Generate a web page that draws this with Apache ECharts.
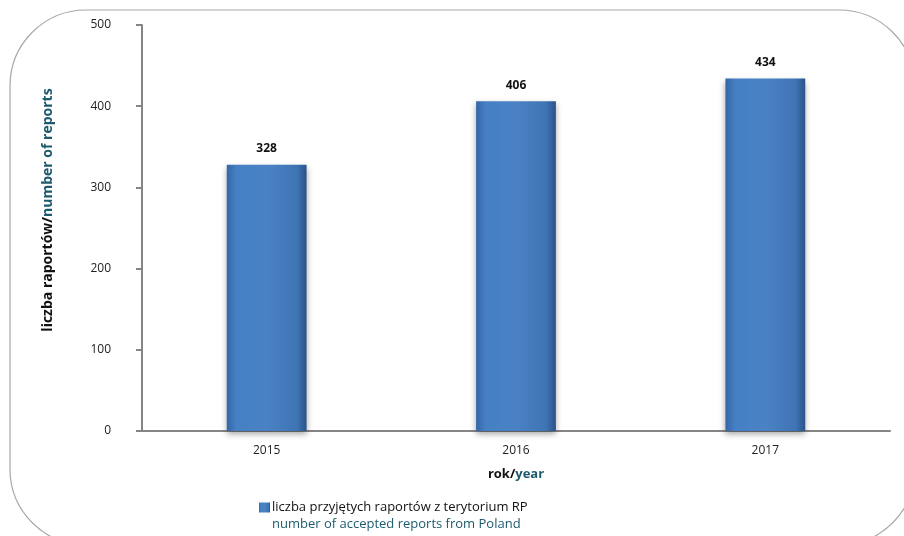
<!DOCTYPE html>
<html>
<head>
<meta charset="utf-8">
<script src="https://cdn.jsdelivr.net/npm/echarts@6/dist/echarts.min.js"></script>
<style>
  html, body { margin: 0; padding: 0; background: #fff; }
  #chart { width: 904px; height: 536px; }
</style>
</head>
<body>
<div id="chart"></div>
<script>
// lata / years
const years = ["2015", "2016", "2017"];
// liczba przyjętych raportów z terytorium RP
const reports = [328, 406, 434];
const yTicks = [0, 100, 200, 300, 400, 500];

const teal = "#1d5a6e";
const font = "Open Sans";

const myChart = echarts.init(document.getElementById("chart"));

const option = {
  backgroundColor: "#fff",
  textStyle: { fontFamily: font },
  grid: { left: 142, right: 14, top: 25, bottom: 105 },
  graphic: [
    {
      // ramka z zaokrąglonymi rogami
      type: "rect",
      shape: { x: 10, y: 10, width: 905, height: 535, r: 76 },
      style: { fill: "none", stroke: "#a8a8a8", lineWidth: 1.2 },
      z: -1
    },
    {
      // opis osi Y
      type: "text",
      x: 48,
      y: 210,
      rotation: Math.PI / 2,
      style: {
        text: "{a|liczba raportów/}{b|number of reports}",
        align: "center",
        verticalAlign: "middle",
        rich: {
          a: { fontFamily: font, fontSize: 14, fontWeight: "bold", fill: "#111" },
          b: { fontFamily: font, fontSize: 14, fontWeight: "bold", fill: teal }
        }
      }
    },
    {
      // druga linia legendy
      type: "text",
      x: 272,
      y: 524,
      style: {
        text: "number of accepted reports from Poland",
        fontFamily: font,
        fontSize: 13,
        fill: teal,
        verticalAlign: "middle"
      }
    }
  ],
  legend: {
    top: 496,
    left: 254,
    itemWidth: 11,
    itemHeight: 10,
    itemGap: 4,
    icon: "rect",
    data: ["raporty"],
    formatter: "liczba przyjętych raportów z terytorium RP",
    textStyle: { fontFamily: font, fontSize: 13, color: "#111", padding: [0, 0, 0, -3] }
  },
  xAxis: {
    type: "category",
    data: years,
    name: "{a|rok/}{b|year}",
    nameLocation: "middle",
    nameGap: 37,
    nameTextStyle: {
      rich: {
        a: { fontFamily: font, fontSize: 13, fontWeight: "bold", color: "#111" },
        b: { fontFamily: font, fontSize: 13, fontWeight: "bold", color: teal }
      }
    },
    axisLine: { lineStyle: { color: "#858585", width: 2 } },
    axisTick: { show: false },
    axisLabel: { color: "#222", fontSize: 12, margin: 14, fontFamily: font }
  },
  yAxis: {
    type: "value",
    min: 0,
    max: 500,
    interval: 100,
    axisLine: { show: true, lineStyle: { color: "#858585", width: 2 } },
    axisTick: { show: true, length: 6, lineStyle: { color: "#858585", width: 2 } },
    splitLine: { show: false },
    axisLabel: {
      color: "#222",
      fontSize: 12,
      margin: 31,
      fontFamily: font,
      formatter: function (v) { return yTicks.indexOf(v) >= 0 ? String(v) : ""; }
    }
  },
  series: [
    {
      name: "raporty",
      type: "bar",
      data: reports,
      barWidth: "32%",
      itemStyle: {
        color: new echarts.graphic.LinearGradient(0, 0, 1, 0, [
          { offset: 0, color: "#3466a6" },
          { offset: 0.12, color: "#4580c4" },
          { offset: 0.5, color: "#4a82c4" },
          { offset: 0.88, color: "#3f74b4" },
          { offset: 1, color: "#2a5288" }
        ]),
        shadowColor: "rgba(0,0,0,0.35)",
        shadowBlur: 6,
        shadowOffsetY: 3
      },
      label: {
        show: true,
        position: "top",
        distance: 10,
        color: "#111",
        fontWeight: "bold",
        fontSize: 12,
        fontFamily: font
      }
    }
  ]
};

option && myChart.setOption(option);
</script>
</body>
</html>
